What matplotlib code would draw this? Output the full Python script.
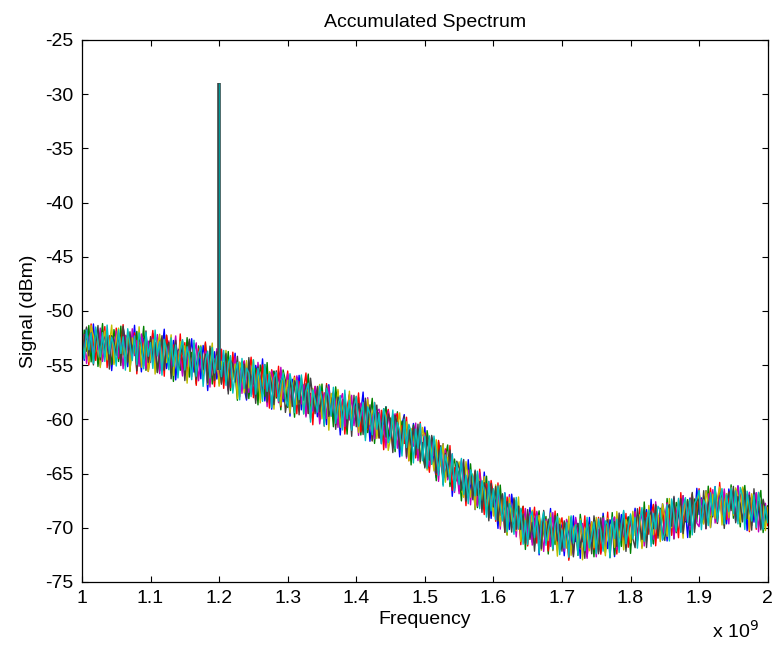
import numpy as np
import matplotlib
matplotlib.use('Agg')
import matplotlib.pyplot as plt

plt.rcParams['font.family'] = ['Liberation Sans', 'DejaVu Sans']

# smooth level, tenths of dBm, one row per 50 MHz
level = [
    -533, -533, -533, -533, -533, -533, -533, -533, -534, -534, -534, -534, -534, -534, -534,
    -534, -534, -535, -535, -535, -536, -536, -536, -537, -537, -537, -538, -538, -538, -539,
    -539, -539, -540, -540, -541, -541, -542, -542, -543, -543, -544, -544, -545, -545, -546,
    -546, -547, -547, -548, -548, -549, -549, -550, -550, -551, -551, -552, -552, -553, -553,
    -554, -555, -556, -556, -557, -558, -559, -560, -560, -561, -562, -563, -564, -564, -565,
    -566, -567, -567, -568, -568, -569, -570, -570, -571, -571, -572, -572, -573, -574, -574,
    -575, -576, -577, -577, -578, -579, -580, -581, -581, -582, -583, -584, -585, -585, -586,
    -587, -588, -588, -589, -590, -590, -591, -592, -592, -593, -594, -594, -595, -596, -596,
    -597, -598, -599, -600, -600, -601, -602, -603, -604, -605, -606, -607, -607, -608, -609,
    -610, -611, -613, -614, -615, -617, -618, -619, -620, -621, -622, -623, -624, -625, -627,
    -628, -630, -632, -633, -635, -637, -639, -641, -642, -644, -646, -648, -650, -652, -654,
    -656, -657, -658, -660, -661, -662, -663, -665, -666, -667, -669, -671, -672, -674, -676,
    -678, -680, -681, -683, -684, -686, -687, -689, -690, -692, -693, -694, -696, -697, -699,
    -700, -701, -702, -702, -703, -704, -704, -705, -705, -706, -706, -707, -707, -708, -708,
    -709, -709, -709, -709, -710, -710, -710, -710, -710, -710, -710, -710, -710, -710, -710,
    -710, -710, -709, -709, -709, -708, -708, -707, -707, -706, -706, -706, -705, -705, -704,
    -704, -703, -703, -702, -702, -701, -700, -700, -699, -699, -698, -697, -697, -696, -696,
    -695, -694, -694, -693, -692, -692, -691, -690, -690, -689, -688, -688, -687, -686, -686,
    -685, -685, -684, -684, -684, -683, -683, -683, -682, -682, -682, -681, -681, -681, -680,
    -680, -680, -681, -681, -682, -682, -683, -684, -684, -685, -686, -687, -688, -689, -690,
    -691,
]

# frequency grid, 1 to 2 GHz
freq = np.linspace(1e9, 2e9, len(level))

# carrier spike
spike_freq = 1.2e9
spike_peak = -29.0

# per-trace ripple around the level, in steps of ripple_unit dB
ripple_unit = 0.14
blue = [
    4, -9, 12, 2, -6, 15, -3, 8, -12, 1, 10, -5, 7, -15, 3,
    9, -2, -8, 14, 5, -11, 6, 0, 17, -7, 3, -13, 9, 11, -4,
    -6, 13, -1, 7, -10, 4, 18, -8, 2, -5, 12, -14, 6, 8, -3,
    10, -12, 3, 16, -6, -2, 9, -9, 13, 5, -16, 7, 1, 11, -7,
    2, 14, -5, 8, -11, 6, -1, 15, -9, 4, 10, -6, -13, 9, 3,
    -8, 12, 5, -4, 17, -10, 7, 2, -14, 11, -3, 8, 13, -7, 0,
    6, -15, 10, 4, -2, 14, -8, 9, -5, 16, -11, 3, 7, -9, 12,
    -4, 8, -12, 15, 1, -7, 11, 5, -16, 6, 9, -3, 13, -10, 2,
    10, -6, 4, 18, -9, 7, -13, 3, 12, -2, 8, -11, 5, 14, -8,
    1, 11, -7, 6, -14, 9, 16, -4, 2, -10, 13, 5, -8, 7, -3,
    15, -9, 3, 10, -5, -12, 8, 1, 14, -7, 6, 11, -15, 4, 9,
    -6, 12, 2, -10, 17, -3, 7, -13, 5, 9, -8, 16, -1, 6, -11,
    8, 3, -14, 11, -5, 13, 0, -9, 15, 4, -7, 10, -12, 6, 2,
    -3, 14, -8, 7, 12, -15, 5, 9, -6, 1, 17, -10, 4, -4, 11,
    6, -12, 9, 3, -7, 15, -2, 10, -13, 8, 4, -9, 14, -5, 7,
    12, -4, -10, 16, 2, -8, 11, 6, -14, 9, -1, 13, -7, 5, 10,
    -9, 4, 15, -6, 8, -11, 3, 12, -3, 18, -12, 7, 1, -8, 13,
    5, -13, 10, 2, 14, -7, 6, -10, 9, 4, -15, 11, 3, -5, 16,
    -2, 9, -8, 13, 7, -12, 1, 15, -6, 10, -4, 8, -11, 12, 3,
    7, -10, 14, -3, 5, 11, -14, 6, 9, -7, 13, 2, -9, 10, -4,
    6,
]
green = [
    -7, 11, -3, 14, -10, 5, 8, -13, 2, 16, -6, 9, -1, -11, 12,
    3, -9, 15, -4, 7, 10, -14, 6, -2, 13, -8, 1, 17, -12, 5,
    9, -5, 4, -12, 11, 6, -9, 14, -3, 8, -15, 10, 2, -7, 13,
    -4, 16, -10, 7, 1, -13, 12, 5, -8, 15, -2, 9, -11, 4, 10,
    12, -8, 6, -3, 14, -11, 9, 2, -16, 7, 11, -5, 8, -12, 3,
    -1, 10, -14, 13, 5, -7, 16, -9, 4, 11, -6, 2, -13, 14, 7,
    -10, 8, 3, -15, 12, -4, 9, 6, -11, 17, -8, 5, 10, -3, -9,
    14, -6, 11, -2, 7, -12, 15, 1, -9, 8, 4, -14, 12, -5, 9,
    -3, 13, -11, 6, 10, -8, 2, 16, -13, 5, 9, -1, -10, 14, -6,
    8, 4, -12, 15, -7, 11, -3, 9, 6, -15, 12, 3, -8, 10, -4,
    -11, 14, 5, -6, 9, -14, 13, 2, -9, 7, 16, -10, 4, 11, -2,
    6, -13, 10, 3, -8, 15, -5, 12, -11, 1, 8, -7, 14, -12, 9,
    2, 11, -9, 16, -3, 6, -14, 10, 4, -8, 13, -5, 7, 12, -15,
    9, -4, 12, -10, 5, 14, -7, 1, 11, -13, 8, 3, -6, 15, -9,
    -5, 10, 7, -14, 13, -2, 8, -11, 16, 4, -9, 12, -3, 6, -12,
    11, -7, 3, 14, -10, 9, -4, 15, -13, 6, 2, -8, 12, -1, 10,
    -14, 8, 12, -5, 4, -11, 17, -6, 9, 3, -12, 13, -7, 10, 5,
    -9, 15, -2, 7, -13, 11, 6, -8, 14, -4, 10, -15, 3, 9, -6,
    12, -3, 8, -11, 16, -9, 2, 13, -7, 5, 11, -12, 6, -4, 14,
    -8, 10, 4, -13, 9, 15, -6, 3, -10, 12, -5, 7, 16, -11, 1,
    8,
]
red = [
    10, -4, 7, -12, 15, 3, -9, 11, -6, 2, 14, -13, 8, 5, -10,
    13, -7, 1, 16, -11, 6, 9, -5, 12, -15, 4, 10, -3, 8, -12,
    2, 15, -8, 11, -4, 7, -13, 14, 5, -10, 9, 1, -7, 17, -6,
    12, -9, 6, -2, 13, -14, 10, 4, -8, 16, -5, 11, 3, -12, 9,
    -6, 14, -11, 8, 2, -9, 15, -3, 10, -13, 7, 12, -8, 4, 16,
    -10, 5, 11, -7, 13, -2, 8, -14, 12, 6, -5, 15, -11, 9, 1,
    14, -8, 3, 12, -12, 10, -4, 7, 17, -9, 5, -15, 11, 2, -6,
    9, -13, 15, -1, 6, 11, -10, 13, -5, 8, -14, 4, 12, -7, 10,
    -3, 16, -9, 5, 12, -6, 9, -12, 14, 1, -8, 11, -15, 7, 13,
    4, -11, 10, 14, -7, 8, -3, 15, -13, 6, 10, -9, 2, 16, -5,
    11, -2, -12, 9, 6, -10, 14, 3, -8, 12, -6, 17, -11, 5, 8,
    -7, 13, 4, -14, 10, 7, -5, 12, -9, 15, 2, -12, 9, -3, 14,
    6, -10, 16, -4, 8, -13, 11, 5, -7, 13, -1, 9, -14, 12, 3,
    -12, 9, 2, 15, -8, 11, -6, 14, 4, -11, 10, -3, 16, -9, 7,
    13, -5, 10, -15, 6, 3, 12, -8, 9, -2, 15, -12, 5, 11, -7,
    1, 14, -11, 8, -4, 16, -9, 6, 12, -13, 7, 2, -6, 13, -10,
    9, -3, 12, -7, 15, -12, 4, 10, -5, 8, 14, -14, 6, -1, 11,
    -8, 12, 5, -10, 9, 3, -13, 16, -6, 11, -4, 7, 13, -11, 2,
    15, -7, 9, -12, 4, 14, -2, 8, -10, 17, -5, 10, -8, 6, 12,
    -4, 11, -9, 7, 13, -6, 10, -14, 5, 9, -11, 14, 3, -7, 8,
    -5,
]
magenta = [
    -5, 8, -11, 3, 12, -7, 6, -2, 13, -9, 1, 10, -12, 7, -4,
    11, -6, 4, -13, 9, 2, -8, 14, -3, 7, -10, 12, 5, -11, 8,
    -2, 10, -7, 13, -12, 5, 9, -4, 11, -8, 3, 15, -6, 1, -10,
    8, -3, 12, -9, 6, 14, -11, 4, -5, 10, 7, -13, 9, -1, 13,
    -9, 5, 11, -4, -12, 8, 2, 13, -7, 6, -10, 12, 3, -8, 10,
    4, -11, 14, 1, -6, 9, -13, 7, 11, -3, 5, -9, 15, -5, 2,
    12, -7, 3, -10, 13, 6, -4, 9, -12, 8, 2, -6, 11, 5, -13,
    -1, 9, -8, 14, -5, 10, 4, -11, 7, 12, -9, 3, -4, 13, -7,
    6, -12, 10, 2, -8, 15, -3, 5, -10, 9, 11, -6, 1, -13, 12,
    -4, 7, 13, -9, 3, -6, 11, -12, 8, 4, -2, 14, -10, 6, 9,
    10, -5, -8, 12, 1, 7, -13, 9, -3, 11, -7, 4, 13, -11, 5,
    -9, 14, 3, -6, 10, -12, 8, 2, -10, 13, -4, 6, -8, 12, 0,
    7, -3, 11, -13, 5, 9, -7, 14, -2, 4, -11, 10, 6, -9, 12,
    -6, 11, -10, 4, 13, -5, 2, -12, 9, 7, -8, 15, -3, 10, -7,
    3, -9, 12, 8, -4, -11, 14, 5, -7, 10, 1, -13, 9, -2, 11,
    -12, 6, 2, 13, -8, 10, -5, 7, 12, -10, 4, -3, 14, -9, 5,
    9, -4, 13, -7, 3, 11, -12, 6, -1, 10, -9, 15, -5, 8, -11,
    2, 12, -6, 9, -13, 4, 10, -8, 14, -3, 7, -10, 11, 5, -7,
    -10, 8, 5, -12, 11, -4, 13, -9, 3, 9, -6, 12, -2, -11, 10,
    6, -7, 14, -3, 8, -10, 4, 12, -8, 5, 13, -12, 7, -5, 9,
    -3,
]
yellow = [
    12, -6, 4, -10, 14, 7, -3, 9, -13, 5, 11, -8, 2, 15, -11,
    6, 13, -9, 3, -5, 12, -14, 8, 1, -7, 16, -10, 4, 10, -12,
    -3, 9, -13, 6, 14, -8, 11, -4, 2, 15, -11, 7, -6, 12, 4,
    10, -14, 7, -2, 12, -9, 5, 13, -6, 8, -12, 3, 16, -8, 9,
    -11, 6, 1, 14, -7, 11, -3, 8, -15, 10, 4, -9, 13, -5, 7,
    15, -4, 9, -12, 3, 13, -8, 10, 5, -14, 8, 2, -10, 12, -2,
    8, -13, 4, 11, -6, 1, 14, -10, 7, 5, -12, 9, -3, 6, 13,
    -9, 3, 12, -15, 10, 6, -5, 14, -11, 2, 9, -8, 15, -4, 6,
    13, -10, 5, 9, -12, 14, -2, 7, 11, -9, 3, -6, 12, 8, -14,
    -5, 11, -8, 6, 15, -7, 2, 12, -13, 9, 4, -4, 10, -11, 14,
    7, -12, 10, 3, -9, 13, -6, 1, 14, -10, 8, -3, 11, -8, 5,
    12, -5, -10, 15, 4, -7, 9, -13, 11, 6, -4, 13, -9, 2, 10,
    -8, 14, 3, -11, 8, 5, -14, 12, -3, 10, -7, 16, -12, 7, 1,
    9, -6, 13, -9, 2, 11, -12, 6, 8, -4, 14, -10, 5, -13, 12,
    -2, 10, -7, 14, -11, 4, 9, -5, 13, -14, 7, 3, -8, 11, -6,
    14, -9, 6, 1, -12, 12, -4, 10, -8, 15, -2, 7, -11, 9, 4,
    -7, 13, -3, 8, 10, -13, 5, -9, 14, 2, -6, 11, 7, -12, 13,
    4, -10, 15, -5, 9, -8, 12, 3, -14, 10, 6, -3, 13, -9, 8,
    11, -4, -9, 13, 5, -12, 10, -6, 7, 14, -11, 2, 9, -7, 12,
    -6, 12, 7, -10, 14, -3, 8, -13, 11, 4, -8, 13, -5, 10, -9,
    7,
]
black = [
    -10, 5, 13, -6, 9, -12, 2, 14, -8, 6, -3, 11, -14, 8, 4,
    -5, 10, -11, 15, 3, -8, 12, -2, 7, -13, 9, 5, -9, 14, -6,
    11, -4, 8, -12, 1, 13, -9, 6, 10, -14, 4, 12, -7, 3, 9,
    -13, 7, 15, -5, 10, -10, 4, 12, -3, 8, -11, 14, 2, -8, 11,
    6, -9, 3, 12, -14, 9, 7, -4, 13, -7, 1, 10, -12, 15, -2,
    9, -13, 11, 4, -6, 14, -10, 8, 2, -11, 12, -5, 6, 10, -14,
    -3, 12, -8, 9, 5, -12, 13, -1, 10, -9, 15, 3, -7, 11, -5,
    7, -11, 14, -6, 2, 10, -13, 9, 5, -4, 12, -10, 8, -14, 13,
    -7, 9, 4, -10, 14, -5, 11, -12, 6, 13, -8, 1, 12, -6, 10,
    5, -14, 12, 7, -9, 3, 15, -11, 8, -2, 11, -7, 14, -10, 4,
    -12, 10, -4, 13, 6, -9, 2, 12, -13, 9, -5, 14, 3, -8, 11,
    8, -6, 15, -11, 4, 10, -8, 13, -3, 7, -12, 9, 5, -14, 12,
    -2, 13, -9, 6, 11, -13, 8, 3, -10, 14, -6, 10, -4, 7, -11,
    12, -7, 5, -14, 9, 4, -11, 15, -5, 10, 2, -9, 13, -3, 8,
    -9, 11, 2, -8, 14, -12, 6, 10, -6, 3, -13, 12, 7, -10, 15,
    4, -10, 13, -3, 8, 11, -14, 5, 9, -8, 14, -4, 10, -12, 6,
    11, -5, -11, 14, 3, -7, 12, -13, 7, 10, -2, 13, -9, 4, -6,
    -12, 8, 11, -4, 15, -9, 5, 12, -11, 2, 9, -7, 14, -13, 10,
    6, -8, 13, -12, 4, 9, -5, 14, -10, 7, 12, -14, 3, 10, -3,
    13, -11, 7, 2, -9, 12, -6, 10, -13, 15, -4, 8, -10, 11, 5,
    -2,
]
cyan = [
    6, -8, 11, -2, 9, -11, 13, 3, -6, 10, -9, 15, -4, 7, 1,
    -12, 12, -3, 8, -14, 14, 4, -7, 10, -9, 12, 5, -11, 13, -2,
    7, -10, 16, -1, 9, -13, 11, 5, -8, 13, -5, 9, -12, 6, 14,
    -6, 10, 3, -11, 15, -8, 7, 12, -14, 4, 10, -7, 13, -3, 8,
    11, -4, 14, -9, 6, 12, -12, 2, 9, -15, 13, -6, 8, 5, -10,
    15, -7, 10, 3, -11, 14, -3, 9, -13, 7, 11, -8, 4, 12, -5,
    -9, 13, 6, -12, 10, -2, 15, -10, 5, 11, -14, 8, 2, -6, 12,
    4, -13, 12, 7, -5, 14, -9, 3, 10, -12, 15, -4, 9, -10, 6,
    13, -6, 2, 11, -14, 9, 5, -8, 14, -3, 8, -11, 12, 6, -9,
    -4, 14, -10, 8, 3, -12, 13, -5, 11, 7, -13, 10, -2, 15, -8,
    9, -11, 12, -6, 14, 4, -9, 11, -14, 8, 2, -7, 13, -10, 10,
    -3, 15, -8, 6, -12, 11, 7, -4, 13, -11, 9, 3, -13, 12, -6,
    10, -9, 14, 2, -7, 13, -12, 8, 5, -10, 15, -5, 10, -13, 4,
    -11, 8, 12, -5, 10, -14, 6, 14, -8, 3, 11, -9, 7, 13, -12,
    5, -7, 10, -13, 15, -3, 9, -11, 12, 6, -8, 14, -6, 2, 11,
    -10, 13, 4, -9, 11, 8, -14, 12, -2, 10, -12, 7, 15, -7, 3,
    12, -5, 9, -12, 6, 14, -9, 4, 11, -13, 8, -3, 12, 9, -11,
    -7, 11, -13, 14, 2, -8, 13, -10, 7, 12, -5, 10, -14, 6, 9,
    14, -12, 7, 3, -10, 11, -4, 15, -9, 5, 13, -11, 8, -3, 12,
    -5, 10, -11, 13, 8, -14, 12, 2, -7, 11, -10, 14, 4, -9, 7,
    -3,
]

traces = [blue, green, red, magenta, yellow, black, cyan]
colors = [(0, 0, 1), (0, 0.5, 0), (1, 0, 0), (0.75, 0, 0.75),
          (0.75, 0.75, 0), (0.25, 0.25, 0.25), (0, 0.75, 0.75)]
for name, tr in zip('bgrmykc', traces):
    assert len(tr) == len(level), (name, len(tr), len(level))

xtick_vals = [1.0, 1.1, 1.2, 1.3, 1.4, 1.5, 1.6, 1.7, 1.8, 1.9, 2.0]
xtick_labels = ['1', '1.1', '1.2', '1.3', '1.4', '1.5', '1.6', '1.7', '1.8', '1.9', '2']
ytick_vals = [-75, -70, -65, -60, -55, -50, -45, -40, -35, -30, -25]

fig = plt.figure(figsize=(7.77, 6.52), dpi=100)
ax = fig.add_axes([0.1055, 0.1074, 0.8825, 0.8313])

lvl = np.array(level) / 10.0
k = int(np.argmin(np.abs(freq - spike_freq)))
for tr, col in zip(traces, colors):
    ax.plot(freq, lvl + np.array(tr) * ripple_unit, color=col, lw=1.0)
# the spike: grey body with the last (cyan) trace on top
ax.vlines(spike_freq, lvl[k], spike_peak, color=(0.25, 0.25, 0.25), lw=2.6)
ax.vlines(spike_freq, lvl[k], spike_peak, color=(0, 0.6, 0.6), lw=1.0)

ax.set_xlim(1e9, 2e9)
ax.set_ylim(-75, -25)
ax.set_xticks([v * 1e9 for v in xtick_vals])
ax.set_xticklabels(xtick_labels)
ax.set_yticks(ytick_vals)
ax.set_yticklabels([str(v) for v in ytick_vals])
ax.tick_params(direction='in', top=True, right=True, length=4, width=0.8,
               labelsize=14, pad=6)
for s in ax.spines.values():
    s.set_linewidth(0.9)

ax.set_title('Accumulated Spectrum', fontsize=14, pad=9)
ax.set_xlabel('Frequency', fontsize=14, labelpad=3)
ax.set_ylabel('Signal (dBm)', fontsize=14, labelpad=6)
fig.text(0.946, 0.022, r'x 10$^{9}$', fontsize=14, ha='center')

fig.savefig('out.png')
